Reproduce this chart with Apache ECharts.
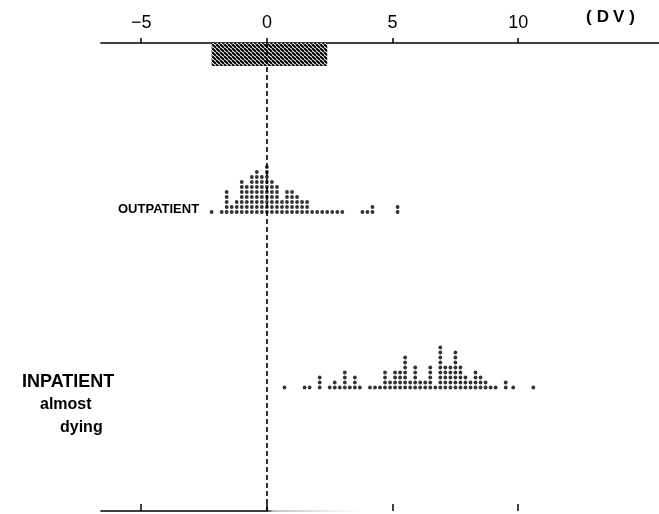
<!DOCTYPE html>
<html><head><meta charset="utf-8">
<script src="https://cdn.jsdelivr.net/npm/echarts@6/dist/echarts.min.js"></script>
<style>html,body{margin:0;padding:0;background:#fff}#c{width:659px;height:514px}</style>
</head><body><div id="c"></div>
<script>
// ---- data ----
const tickValues = [-5, 0, 5, 10];
const tickLabels = ['\u22125', '0', '5', '10'];
const axisUnit = '(DV)';
const outLabel = 'OUTPATIENT';
const inLabelLines = ['INPATIENT', 'almost', 'dying'];
const normalRange = [-2.2, 2.4];
const referenceValue = 0;

const outpatientX = [-2.2, -1.8, -1.6, -1.4, -1.2, -1.0, -0.8, -0.6, -0.4, -0.2, 0.0, 0.2, 0.4, 0.6, 0.8, 1.0, 1.2, 1.4, 1.6, 1.8, 2.0, 2.2, 2.4, 2.6, 2.8, 3.0, 3.8, 4.0, 4.2, 5.2];
const outpatientN = [1, 1, 5, 2, 3, 7, 6, 8, 9, 8, 10, 7, 6, 3, 5, 5, 4, 3, 3, 1, 1, 1, 1, 1, 1, 1, 1, 1, 2, 2];

const inpatientX = [0.7, 1.5, 1.7, 2.1, 2.5, 2.7, 2.9, 3.1, 3.3, 3.5, 3.7, 4.1, 4.3, 4.5, 4.7, 4.9, 5.1, 5.3, 5.5, 5.7, 5.9, 6.1, 6.3, 6.5, 6.7, 6.9, 7.1, 7.3, 7.5, 7.7, 7.9, 8.1, 8.3, 8.5, 8.7, 8.9, 9.1, 9.5, 9.8, 10.6];
const inpatientN = [1, 1, 1, 3, 1, 2, 1, 4, 1, 3, 1, 1, 1, 1, 4, 2, 4, 4, 7, 2, 5, 2, 2, 5, 1, 9, 5, 5, 8, 5, 3, 2, 4, 3, 2, 1, 1, 2, 1, 1];

// ---- build stacked dot points ----
function stackDots(xs, ns) {
  const pts = [];
  xs.forEach((x, i) => { for (let k = 1; k <= ns[i]; k++) pts.push([x, k]); });
  return pts;
}

// hatch pattern
function makeHatch() {
  const s = 4;
  const cv = document.createElement('canvas');
  cv.width = s; cv.height = s;
  const ctx = cv.getContext('2d');
  ctx.fillStyle = '#fff'; ctx.fillRect(0, 0, s, s);
  ctx.strokeStyle = '#000'; ctx.lineWidth = 2.0;
  [-s, 0, s].forEach(o => { ctx.beginPath(); ctx.moveTo(o, 0); ctx.lineTo(o + s, s); ctx.stroke(); });
  return cv;
}
const hatch = makeHatch();

const XMIN = -6.6, XMAX = 15.6;
const FONT = 'Liberation Sans';
const chart = echarts.init(document.getElementById('c'), null, { renderer: 'canvas' });

const hiddenX = (gi) => ({ gridIndex: gi, type: 'value', min: XMIN, max: XMAX, show: false });

chart.setOption({
  animation: false,
  backgroundColor: '#fff',
  title: [
    { text: '{p|(}{l|D}{l|V}{p|)}', left: 583, top: 9, padding: 0,
      textStyle: { rich: {
        p: { fontFamily: FONT, fontSize: 17, fontWeight: 'bold', color: '#000', padding: [0, 3, 0, 3] },
        l: { fontFamily: FONT, fontSize: 17, fontWeight: 'bold', color: '#000', padding: [0, 2, 0, 2] } } } },
    { text: outLabel, left: 118, top: 203, padding: 0,
      textStyle: { fontFamily: FONT, fontSize: 13, fontWeight: 'bold', color: '#000' } },
    { text: inLabelLines[0], left: 22, top: 373, padding: 0,
      textStyle: { fontFamily: FONT, fontSize: 18, fontWeight: 'bold', color: '#000' } },
    { text: inLabelLines[1], left: 40, top: 397, padding: 0,
      textStyle: { fontFamily: FONT, fontSize: 16, fontWeight: 'bold', color: '#000' } },
    { text: inLabelLines[2], left: 60, top: 420, padding: 0,
      textStyle: { fontFamily: FONT, fontSize: 16, fontWeight: 'bold', color: '#000' } }
  ],
  grid: [
    { left: 101, right: 0, top: 43, bottom: 3 },
    { left: 101, right: 0, top: 159.5, height: 57.5 },
    { left: 101, right: 0, top: 335, height: 57.5 }
  ],
  xAxis: [
    { gridIndex: 0, type: 'value', position: 'top', min: XMIN, max: XMAX,
      axisLine: { show: true, lineStyle: { color: '#000', width: 1.6 } },
      axisTick: { show: true, customValues: tickValues, length: 5, inside: false, lineStyle: { color: '#000', width: 1.5 } },
      axisLabel: { show: true, customValues: tickValues, margin: 11, fontFamily: FONT, fontSize: 18, color: '#000',
        formatter: v => tickLabels[tickValues.indexOf(v)] },
      splitLine: { show: false } },
    { gridIndex: 0, type: 'value', position: 'bottom', min: XMIN, max: XMAX,
      axisLine: { show: true, lineStyle: { width: 1.6,
        color: new echarts.graphic.LinearGradient(0, 0, 1, 0, [
          { offset: 0, color: '#000' }, { offset: 0.3, color: '#000' },
          { offset: 0.31, color: '#aaa' }, { offset: 0.47, color: 'rgba(200,200,200,0)' },
          { offset: 1, color: 'rgba(255,255,255,0)' }]) } },
      axisTick: { show: true, customValues: tickValues, length: 7, inside: true, lineStyle: { color: '#000', width: 1.5 } },
      axisLabel: { show: false }, splitLine: { show: false } },
    hiddenX(1), hiddenX(2)
  ],
  yAxis: [
    { gridIndex: 0, type: 'value', min: 0, max: 468, inverse: true, show: false },
    { gridIndex: 1, type: 'value', min: 0, max: 11.5, show: false },
    { gridIndex: 2, type: 'value', min: 0, max: 11.5, show: false }
  ],
  series: [
    { type: 'custom', xAxisIndex: 0, yAxisIndex: 0, z: 2,
      data: [[normalRange[0], normalRange[1]]],
      renderItem: (params, api) => {
        const a = api.coord([api.value(0), 0]);
        const b = api.coord([api.value(1), 23]);
        return { type: 'rect', shape: { x: a[0], y: a[1], width: b[0] - a[0], height: b[1] - a[1] },
          style: { fill: { image: hatch, repeat: 'repeat' }, stroke: null } };
      },
      markLine: { silent: true, symbol: ['none', 'none'], label: { show: false },
        lineStyle: { color: '#000', width: 1.6, type: [5, 3] },
        data: [{ xAxis: referenceValue }] } },
    { type: 'scatter', xAxisIndex: 2, yAxisIndex: 1, symbol: 'circle', symbolSize: 3.8,
      itemStyle: { color: '#000' }, data: stackDots(outpatientX, outpatientN) },
    { type: 'scatter', xAxisIndex: 3, yAxisIndex: 2, symbol: 'circle', symbolSize: 3.8,
      itemStyle: { color: '#000' }, data: stackDots(inpatientX, inpatientN) }
  ]
});
</script></body></html>
